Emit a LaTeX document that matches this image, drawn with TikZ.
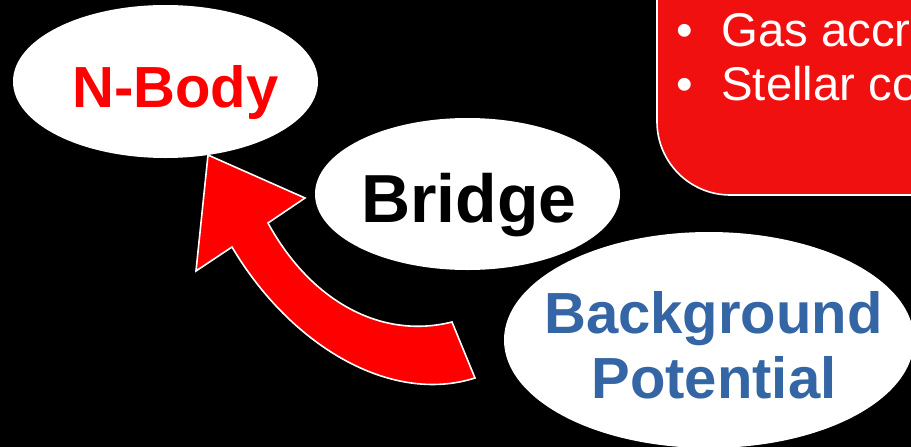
\documentclass[tikz,border=0pt]{standalone}
\usepackage{fontspec}
\setmainfont{Liberation Sans}
\usetikzlibrary{shapes.geometric}
\definecolor{boxred}{RGB}{240,16,16}
\definecolor{bpblue}{RGB}{52,101,164}
\begin{document}
\begin{tikzpicture}[x=0.75pt,y=-0.75pt,
  oval/.style={ellipse,fill=white,draw=none,inner sep=0pt},
  bigbold/.style={font=\fontsize{43.5pt}{48pt}\selectfont\bfseries,inner sep=0pt,anchor=base},
  bullettext/.style={font=\fontsize{35.5pt}{40pt}\selectfont,text=white,inner sep=0pt,anchor=base west}]
\fill[black] (0,0) rectangle (911,447);
\useasboundingbox (0,0) rectangle (911,447);
\clip (0,0) rectangle (911,447);
% red box
\filldraw[fill=boxred,draw=white,line width=1.2pt,rounded corners=55pt] (657,-120) rectangle (1000,195);
\node[bullettext] (b1) at (676,46) {•};
\node[bullettext] (t1) at (721,46) {Gas accr};
\node[bullettext] (b2) at (676,100) {•};
\node[bullettext] (t2) at (721,100) {Stellar co};
% arrow
\filldraw[fill=red,draw=white,line width=1.2pt,line join=miter]
  (208,155) -- (305,198) -- (268,223)
  .. controls (310,300) and (380,340) .. (452,322)
  -- (475,378)
  .. controls (390,405) and (290,345) .. (232,247)
  -- (196,271) -- cycle;
% ellipses
\node[oval,minimum width=305pt*0.75,minimum height=153pt*0.75] (nbody) at (165.5,81.5) {};
\node[bigbold,text=red] (nbodytext) at (175.5,107) {N-Body};
\node[oval,minimum width=305pt*0.75,minimum height=152pt*0.75] (bridge) at (467.5,194) {};
\node[bigbold,font=\fontsize{51pt}{56pt}\selectfont\bfseries,text=black] (bridgetext) at (469,222) {Bridge};
\node[oval,minimum width=410pt*0.75,minimum height=216pt*0.75] (bgpot) at (709,340) {};
\node[bigbold,text=bpblue] (bgtext1) at (713.5,333) {Background};
\node[bigbold,text=bpblue] (bgtext2) at (714,398) {Potential};
\end{tikzpicture}
\end{document}
